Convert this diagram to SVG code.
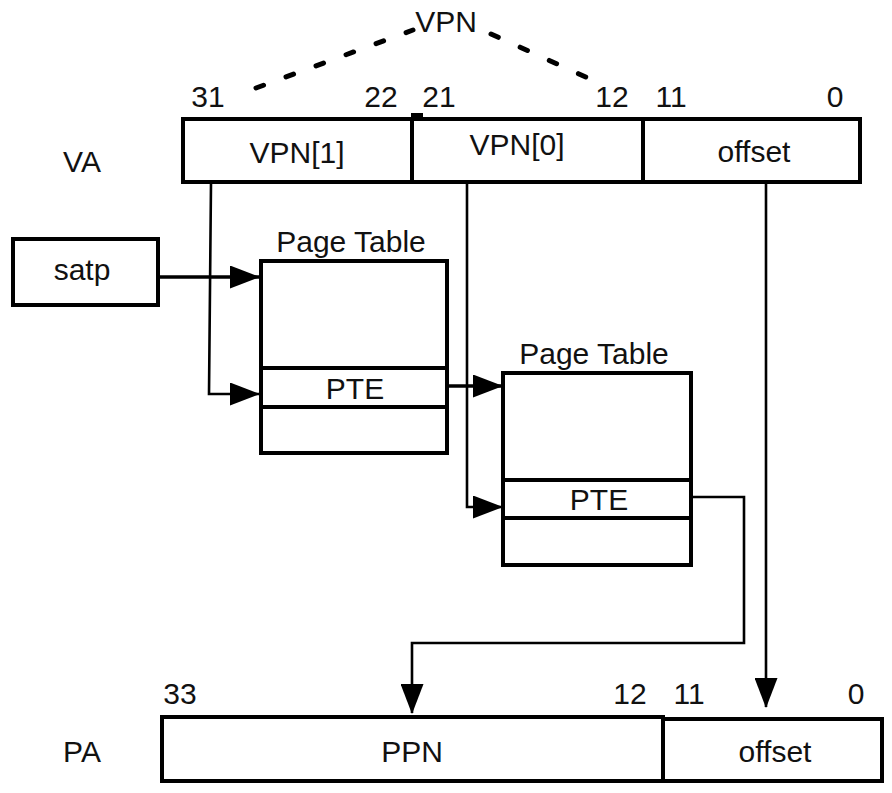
<svg xmlns="http://www.w3.org/2000/svg" width="892" height="793" viewBox="0 0 892 793">
  <style>
    text { font-family: "Liberation Sans", Arial, sans-serif; font-size: 30px; fill: #111; }
    .mid { text-anchor: middle; }
    .box { fill: #fff; stroke: #000; stroke-width: 4; }
    .wire { fill: none; stroke: #000; stroke-width: 2.6; }
    .thick { stroke-width: 3.6; }
    .dash { fill: none; stroke: #000; stroke-width: 5; stroke-dasharray: 8 24; stroke-linecap: round; }
  </style>
  <defs>
    <marker id="head" viewBox="0 0 30 23" refX="29" refY="11.5" markerWidth="30" markerHeight="23" markerUnits="userSpaceOnUse" orient="auto">
      <path d="M0,0 L30,11.5 L0,23 Z" fill="#000"/>
    </marker>
  </defs>
  <rect width="892" height="793" fill="#fff"/>

  <!-- virtual address -->
  <g id="va">
    <text x="82" y="172" class="mid">VA</text>
    <text x="446" y="32" class="mid">VPN</text>
    <path class="dash" d="M256,88 L413,30"/>
    <path class="dash" d="M491,34 L588,78"/>
    <text x="208" y="107" class="mid">31</text>
    <text x="381" y="107" class="mid">22</text>
    <text x="439" y="107" class="mid">21</text>
    <text x="612" y="107" class="mid">12</text>
    <text x="671" y="107" class="mid">11</text>
    <text x="835" y="107" class="mid">0</text>
    <rect class="box" x="183" y="119" width="677" height="63"/>
    <line x1="412" y1="119" x2="412" y2="182" stroke="#000" stroke-width="4"/>
    <line x1="643" y1="119" x2="643" y2="182" stroke="#000" stroke-width="4"/>
    <rect x="411" y="113" width="12" height="5" fill="#000"/>
    <text x="297" y="163" class="mid">VPN[1]</text>
    <text x="517" y="155" class="mid">VPN[0]</text>
    <text x="754" y="162" class="mid">offset</text>
  </g>

  <!-- satp register -->
  <g id="satp">
    <rect class="box" x="13" y="239" width="145" height="66"/>
    <text x="82" y="280" class="mid">satp</text>
  </g>

  <!-- first-level page table -->
  <g id="pt1">
    <text x="351" y="252" class="mid">Page Table</text>
    <rect class="box" x="261" y="261" width="186" height="192"/>
    <line x1="261" y1="368" x2="447" y2="368" stroke="#000" stroke-width="4"/>
    <line x1="261" y1="407" x2="447" y2="407" stroke="#000" stroke-width="4"/>
    <text x="355" y="399" class="mid">PTE</text>
  </g>

  <!-- second-level page table -->
  <g id="pt2">
    <text x="594" y="364" class="mid">Page Table</text>
    <rect class="box" x="503" y="373" width="188" height="192"/>
    <line x1="503" y1="480" x2="691" y2="480" stroke="#000" stroke-width="4"/>
    <line x1="503" y1="518" x2="691" y2="518" stroke="#000" stroke-width="4"/>
    <text x="599" y="510" class="mid">PTE</text>
  </g>

  <!-- physical address -->
  <g id="pa">
    <text x="82" y="762" class="mid">PA</text>
    <text x="180" y="704" class="mid">33</text>
    <text x="630" y="704" class="mid">12</text>
    <text x="689" y="704" class="mid">11</text>
    <text x="856" y="704" class="mid">0</text>
    <rect class="box" x="162" y="717" width="501" height="64"/>
    <rect class="box" x="663" y="719" width="219" height="62"/>
    <text x="412" y="762" class="mid">PPN</text>
    <text x="775" y="762" class="mid">offset</text>
  </g>

  <!-- connectors -->
  <g id="connectors">
    <path class="wire thick" d="M158,277 L259,277" marker-end="url(#head)"/>
    <path class="wire" d="M211,183 L209,394 L259,394" marker-end="url(#head)"/>
    <path class="wire thick" d="M447,386 L502,386" marker-end="url(#head)"/>
    <path class="wire" d="M467,183 L467,507 L502,507" marker-end="url(#head)"/>
    <path class="wire" d="M691,497 L744,497 L744,643 L412,643 L412,713" marker-end="url(#head)"/>
    <path class="wire" d="M766,183 L766,707" marker-end="url(#head)"/>
  </g>
</svg>
